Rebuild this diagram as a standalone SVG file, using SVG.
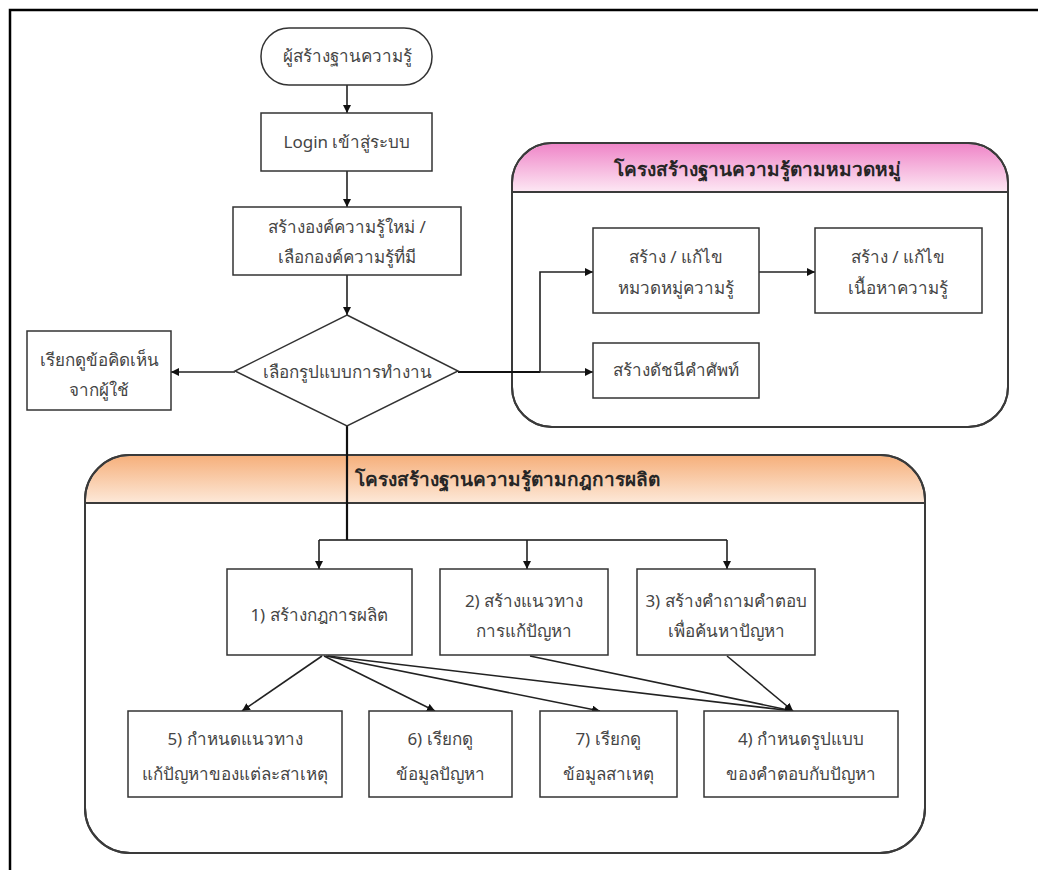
<svg xmlns="http://www.w3.org/2000/svg" width="1038" height="870" viewBox="0 0 1038 870">
  <defs>
    <style>
      .node { fill: #ffffff; stroke: #333333; stroke-width: 1.5; }
      .grp { fill: #ffffff; stroke: #3a3a3a; stroke-width: 2; }
      .sep { stroke: #3a3a3a; stroke-width: 2; fill: none; }
      .lbl { font-family: "Noto Sans", "Liberation Sans", sans-serif; font-size: 17px; fill: #454545; text-anchor: middle; }
      .ttl { font-family: "Noto Sans", "Liberation Sans", sans-serif; font-size: 19px; font-weight: bold; fill: #262626; text-anchor: middle; }
      .edge { stroke: #222222; stroke-width: 1.6; fill: none; marker-end: url(#arr); }
      .main { stroke: #111111; stroke-width: 2.2; fill: none; }
    </style>
    <marker id="arr" viewBox="0 0 10 10" refX="10" refY="5" markerWidth="8" markerHeight="8" markerUnits="userSpaceOnUse" orient="auto">
      <path d="M0,0 L10,5 L0,10 Z" fill="#111111"/>
    </marker>
    <linearGradient id="pinkHead" x1="0" y1="0" x2="0" y2="1">
      <stop offset="0" stop-color="#ef86c8"/>
      <stop offset="1" stop-color="#fde8f4"/>
    </linearGradient>
    <linearGradient id="orangeHead" x1="0" y1="0" x2="0" y2="1">
      <stop offset="0" stop-color="#f6b07c"/>
      <stop offset="1" stop-color="#fde9d9"/>
    </linearGradient>
  </defs>

  <rect width="1038" height="870" fill="#ffffff"/>
  <!-- page frame -->
  <path d="M10,872 V10 H1040" fill="none" stroke="#000000" stroke-width="2.5"/>

  <!-- group: knowledge base by category -->
  <g id="group-category">
    <rect class="grp" x="512" y="143" width="496" height="284" rx="40" ry="40"/>
    <path d="M513,192 V183 A39,39 0 0 1 552,144 H968 A39,39 0 0 1 1007,183 V192 Z" fill="url(#pinkHead)"/>
    <rect x="512" y="143" width="496" height="284" rx="40" ry="40" fill="none" stroke="#3a3a3a" stroke-width="2"/>
    <line class="sep" x1="512" y1="192" x2="1008" y2="192"/>
    <text class="ttl" x="757" y="176">โครงสร้างฐานความรู้ตามหมวดหมู่</text>
  </g>

  <!-- group: knowledge base by production rules -->
  <g id="group-rules">
    <rect class="grp" x="85" y="455" width="840" height="398" rx="45" ry="45"/>
    <path d="M86,503 V500 A44,44 0 0 1 130,456 H880 A44,44 0 0 1 924,500 V503 Z" fill="url(#orangeHead)"/>
    <rect x="85" y="455" width="840" height="398" rx="45" ry="45" fill="none" stroke="#3a3a3a" stroke-width="2"/>
    <line class="sep" x1="85" y1="503" x2="925" y2="503"/>
    <text class="ttl" x="507" y="486">โครงสร้างฐานความรู้ตามกฎการผลิต</text>
  </g>

  <!-- connectors -->
  <g id="connectors">
    <line class="edge" x1="347" y1="85" x2="347" y2="113"/>
    <line class="edge" x1="347" y1="171" x2="347" y2="207"/>
    <line class="edge" x1="347" y1="275" x2="347" y2="315"/>
    <line class="edge" x1="235" y1="372" x2="171" y2="372"/>
    <line class="main" x1="458" y1="372" x2="540" y2="372"/>
    <line class="edge" x1="540" y1="372" x2="593" y2="372"/>
    <polyline class="edge" points="540,372 540,272 593,272"/>
    <line class="edge" x1="759" y1="272" x2="815" y2="272"/>
    <line class="main" x1="347" y1="426" x2="347" y2="540"/>
    <line class="main" x1="319" y1="540" x2="727" y2="540" style="stroke-width:1.6"/>
    <line class="edge" x1="319" y1="540" x2="319" y2="569"/>
    <line class="edge" x1="527" y1="540" x2="527" y2="569"/>
    <line class="edge" x1="727" y1="540" x2="727" y2="569"/>
    <line class="edge" x1="322" y1="656" x2="242" y2="711"/>
    <line class="edge" x1="324" y1="656" x2="435" y2="711"/>
    <line class="edge" x1="326" y1="656" x2="600" y2="711"/>
    <line class="edge" x1="328" y1="656" x2="793" y2="711"/>
    <line class="edge" x1="530" y1="656" x2="793" y2="711"/>
    <line class="edge" x1="727" y1="656" x2="793" y2="711"/>
  </g>

  <g id="n-start">
    <rect class="node" x="261" y="28" width="171" height="57" rx="28" ry="28"/>
    <text class="lbl" x="347" y="62">ผู้สร้างฐานความรู้</text>
  </g>
  <g id="n-login">
    <rect class="node" x="261" y="113" width="171" height="58"/>
    <text class="lbl" x="347" y="148">Login เข้าสู่ระบบ</text>
  </g>
  <g id="n-select-kb">
    <rect class="node" x="233" y="207" width="228" height="68"/>
    <text class="lbl" x="347" y="233">สร้างองค์ความรู้ใหม่ /</text>
    <text class="lbl" x="347" y="263">เลือกองค์ความรู้ที่มี</text>
  </g>
  <g id="n-mode">
    <polygon class="node" points="347,315 458,371 347,426 235,371"/>
    <text class="lbl" x="347" y="378">เลือกรูปแบบการทำงาน</text>
  </g>
  <g id="n-comments">
    <rect class="node" x="27" y="331" width="144" height="79"/>
    <text class="lbl" x="99" y="366">เรียกดูข้อคิดเห็น</text>
    <text class="lbl" x="99" y="396">จากผู้ใช้</text>
  </g>
  <g id="n-category">
    <rect class="node" x="593" y="228" width="166" height="85"/>
    <text class="lbl" x="676" y="263">สร้าง / แก้ไข</text>
    <text class="lbl" x="676" y="294">หมวดหมู่ความรู้</text>
  </g>
  <g id="n-content">
    <rect class="node" x="815" y="228" width="167" height="85"/>
    <text class="lbl" x="898" y="263">สร้าง / แก้ไข</text>
    <text class="lbl" x="898" y="294">เนื้อหาความรู้</text>
  </g>
  <g id="n-index">
    <rect class="node" x="593" y="343" width="166" height="55"/>
    <text class="lbl" x="676" y="376">สร้างดัชนีคำศัพท์</text>
  </g>
  <g id="n-rule">
    <rect class="node" x="227" y="569" width="185" height="86"/>
    <text class="lbl" x="319" y="621">1) สร้างกฎการผลิต</text>
  </g>
  <g id="n-solution">
    <rect class="node" x="440" y="569" width="168" height="86"/>
    <text class="lbl" x="524" y="607">2) สร้างแนวทาง</text>
    <text class="lbl" x="524" y="637">การแก้ปัญหา</text>
  </g>
  <g id="n-question">
    <rect class="node" x="637" y="569" width="178" height="86"/>
    <text class="lbl" x="726" y="607">3) สร้างคำถามคำตอบ</text>
    <text class="lbl" x="726" y="637">เพื่อค้นหาปัญหา</text>
  </g>
  <g id="n-answer-form">
    <rect class="node" x="704" y="711" width="194" height="86"/>
    <text class="lbl" x="801" y="745">4) กำหนดรูปแบบ</text>
    <text class="lbl" x="801" y="780">ของคำตอบกับปัญหา</text>
  </g>
  <g id="n-cause-solution">
    <rect class="node" x="128" y="711" width="214" height="86"/>
    <text class="lbl" x="235" y="745">5) กำหนดแนวทาง</text>
    <text class="lbl" x="235" y="780">แก้ปัญหาของแต่ละสาเหตุ</text>
  </g>
  <g id="n-problem-data">
    <rect class="node" x="369" y="711" width="143" height="86"/>
    <text class="lbl" x="440" y="745">6) เรียกดู</text>
    <text class="lbl" x="440" y="780">ข้อมูลปัญหา</text>
  </g>
  <g id="n-cause-data">
    <rect class="node" x="540" y="711" width="137" height="86"/>
    <text class="lbl" x="608" y="745">7) เรียกดู</text>
    <text class="lbl" x="608" y="780">ข้อมูลสาเหตุ</text>
  </g>
</svg>
